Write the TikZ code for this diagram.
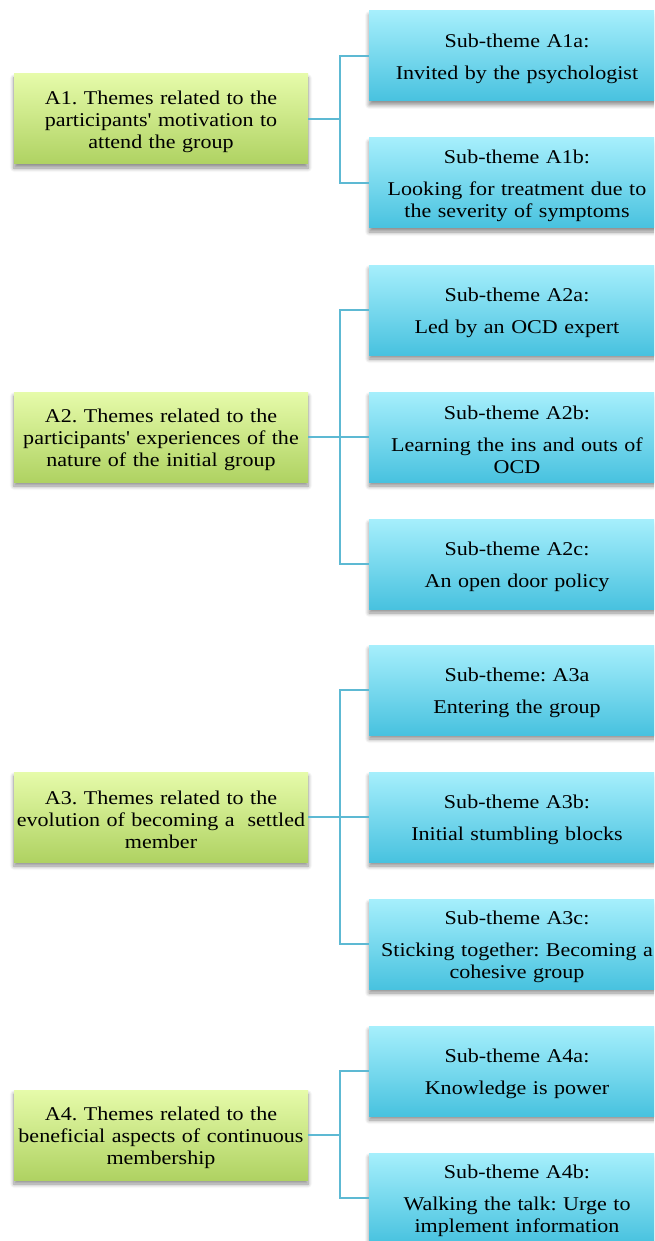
\documentclass[tikz,border=0pt]{standalone}
\usepackage{fontspec}
\setmainfont{Liberation Serif}[FakeStretch=1.13, Ligatures=TeXOff]
\usetikzlibrary{shadows.blur}
\definecolor{gtop}{HTML}{E6FBAA}
\definecolor{gbot}{HTML}{AFD262}
\definecolor{btop}{HTML}{A6EFFC}
\definecolor{bbot}{HTML}{48C2DF}
\definecolor{conn}{HTML}{5DB9D3}
\tikzset{
  boxbase/.style={rectangle, minimum height=90pt, inner sep=0pt, align=center,
    font=\fontsize{19.5pt}{22pt}\selectfont\frenchspacing,
    execute at begin node={\rule{0pt}{19pt}},
    blur shadow={shadow xshift=0pt, shadow yshift=-4pt, shadow blur steps=6, shadow opacity=45, shadow blur radius=4pt}},
  theme/.style={boxbase, minimum width=294pt, text width=292pt, top color=gtop, bottom color=gbot},
  sub/.style={boxbase, minimum width=296pt, text width=294pt, top color=btop, bottom color=bbot},
  link/.style={draw=conn, line width=2.2pt}
}
\newcommand{\hd}[2]{#1\\[10pt]#2}
\begin{document}
\begin{tikzpicture}[x=1pt,y=-1pt]
\useasboundingbox (0,0) rectangle (654,1241);
\clip (0,0) rectangle (654,1241);
% group 1
\node[sub] (a1a) at (517,56) {\hd{Sub-theme A1a:}{Invited by the psychologist}};
\node[sub] (a1b) at (517,183) {\hd{Sub-theme A1b:}{Looking for treatment due to\\the severity of symptoms}};
\node[theme] (a1) at (161,119) {A1. Themes related to the\\participants' motivation to\\attend the group};
% group 2
\node[sub] (a2a) at (517,310) {\hd{Sub-theme A2a:}{Led by an OCD expert}};
\node[sub] (a2b) at (517,437) {\hd{Sub-theme A2b:}{Learning the ins and outs of\\OCD}};
\node[sub] (a2c) at (517,564) {\hd{Sub-theme A2c:}{An open door policy}};
\node[theme] (a2) at (161,437) {A2. Themes related to the\\participants' experiences of the\\nature of the initial group};
% group 3
\node[sub] (a3a) at (517,690) {\hd{Sub-theme: A3a}{Entering the group}};
\node[sub] (a3b) at (517,817) {\hd{Sub-theme A3b:}{Initial stumbling blocks}};
\node[sub] (a3c) at (517,944) {\hd{Sub-theme A3c:}{Sticking together: Becoming a\\cohesive group}};
\node[theme] (a3) at (161,817) {A3. Themes related to the\\evolution of becoming a ~settled\\member};
% group 4
\node[sub] (a4a) at (517,1071) {\hd{Sub-theme A4a:}{Knowledge is power}};
\node[sub] (a4b) at (517,1198) {\hd{Sub-theme A4b:}{Walking the talk: Urge to\\implement information}};
\node[theme] (a4) at (161,1135) {A4. Themes related to the\\beneficial aspects of continuous\\membership};
% connectors
\foreach \p/\c in {a1/a1a,a1/a1b,a2/a2a,a2/a2b,a2/a2c,a3/a3a,a3/a3b,a3/a3c,a4/a4a,a4/a4b}{
  \draw[link] (\p.east) -- (340,0 |- \p.east) |- (\c.west);
}
\end{tikzpicture}
\end{document}
